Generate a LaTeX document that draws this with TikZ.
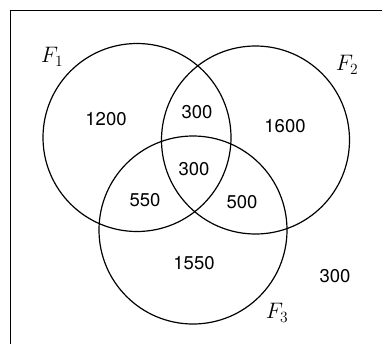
\documentclass[tikz,border=0pt]{standalone}
\usepackage{fontspec}
\setsansfont{TeX Gyre Heros}
\begin{document}
\begin{tikzpicture}[x=1pt,y=-1pt,
  circ/.style={draw,line width=1.2pt},
  num/.style={font=\sffamily\fontsize{18.5}{20}\selectfont,inner sep=0pt},
  lab/.style={font=\huge,scale=1.08,inner sep=0pt}]
\useasboundingbox (0,0) rectangle (382,343);
\begin{scope}
\clip (0,0) rectangle (382,343);
\draw[line width=1.4pt] (10.5,10.5) rectangle (400,360);
\end{scope}
\node[circ,circle,minimum size=188pt,inner sep=0pt] (c1) at (137,137.5) {};
\node[circ,circle,minimum size=188pt,inner sep=0pt] (c2) at (255.5,140) {};
\node[circ,circle,minimum size=188pt,inner sep=0pt] (c3) at (193,230) {};
\node[lab] (f1) at (52,57) {$F_1$};
\node[lab] (f2) at (347,65) {$F_2$};
\node[lab] (f3) at (277,313) {$F_3$};
\node[num] (n1) at (106,119) {1200};
\node[num] (n2) at (197,112) {300};
\node[num] (n3) at (285,126) {1600};
\node[num] (n4) at (194,169) {300};
\node[num] (n5) at (145,200) {550};
\node[num] (n6) at (242,202) {500};
\node[num] (n7) at (194,263) {1550};
\node[num] (n8) at (335,276) {300};
\end{tikzpicture}
\end{document}
